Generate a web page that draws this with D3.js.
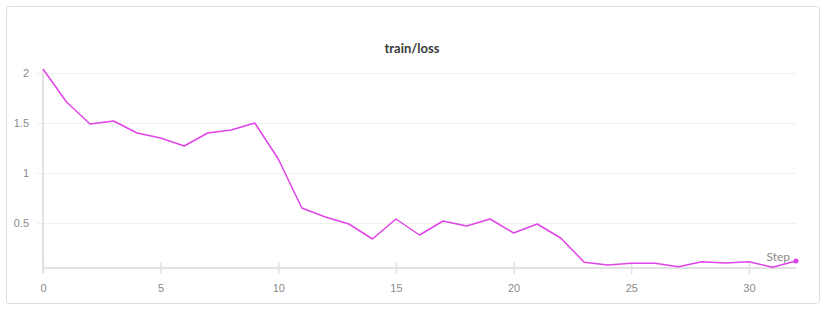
<!DOCTYPE html>
<html>
<head>
<meta charset="utf-8">
<script src="https://cdn.jsdelivr.net/npm/d3@7"></script>
<style>
  body { margin: 0; background: #fff; }
  svg { display: block; font-family: "Lato", "Noto Sans", sans-serif; }
</style>
</head>
<body>
<svg id="chart" width="829" height="315"></svg>
<script>
(function() {
	"use strict";

	// train/loss per step
	var steps = d3.range(0, 33);
	var loss = [2.04, 1.71, 1.49, 1.52, 1.40, 1.35, 1.27, 1.40, 1.43, 1.50,
		1.14, 0.65, 0.56, 0.49, 0.34, 0.54, 0.38, 0.52, 0.47, 0.54,
		0.40, 0.49, 0.35, 0.107, 0.08, 0.097, 0.097, 0.063, 0.113, 0.10,
		0.113, 0.057, 0.12];
	var xTicks = [0, 5, 10, 15, 20, 25, 30];
	var yTicks = [0.5, 1, 1.5, 2];

	var svg = d3.select('#chart'),
		margin = { left: 43, right: 33, top: 69, bottom: 47 },
		width = 829 - margin.left - margin.right,
		height = 315 - margin.top - margin.bottom;

	// card
	svg.append('rect')
		.attr('x', 6.5).attr('y', 6.5)
		.attr('width', 813).attr('height', 297)
		.attr('rx', 3)
		.attr('fill', '#fff')
		.attr('stroke', '#dcdcdc');

	svg.append('text')
		.attr('x', 412).attr('y', 53)
		.attr('text-anchor', 'middle')
		.attr('font-size', 13)
		.attr('font-weight', 'bold')
		.attr('fill', '#3b3b3b')
		.text('train/loss');

	var x = d3.scaleLinear().domain([0, 32]).range([0, width]);
	var y = d3.scaleLinear().domain([0.05, 2.04]).range([height, 0]);

	var g = svg.append('g')
		.attr('transform', 'translate(' + margin.left + ',' + margin.top + ')');

	// gridlines + y ticks
	var yAxis = g.append('g')
		.call(d3.axisLeft(y).tickValues(yTicks).tickSize(-width).tickPadding(14)
			.tickFormat(function(d) { return d; }));
	yAxis.select('.domain').remove();
	yAxis.selectAll('line').attr('stroke', '#f0f0f0').attr('x1', -6);
	yAxis.selectAll('text').attr('fill', '#8a8a8a').attr('font-size', 11).attr('dy', '0.32em');

	// y axis line
	g.append('line')
		.attr('x1', 0).attr('x2', 0)
		.attr('y1', 0).attr('y2', height + 5)
		.attr('stroke', '#e2e2e2').attr('stroke-width', 2);

	// x axis
	var xAxis = g.append('g')
		.attr('transform', 'translate(0,' + height + ')')
		.call(d3.axisBottom(x).tickValues(xTicks).tickSize(6).tickPadding(10));
	xAxis.select('.domain').remove();
	xAxis.selectAll('line').attr('stroke', '#e2e2e2').attr('stroke-width', 1.5).attr('y1', -6);
	xAxis.selectAll('text').attr('fill', '#8a8a8a').attr('font-size', 11);

	g.append('line')
		.attr('x1', 0).attr('x2', width)
		.attr('y1', height).attr('y2', height)
		.attr('stroke', '#e2e2e2').attr('stroke-width', 2);

	var line = d3.line()
		.x(function(d, i) { return x(steps[i]); })
		.y(function(d) { return y(d); });

	g.append('path')
		.datum(loss)
		.attr('fill', 'none')
		.attr('stroke', '#e043e8')
		.attr('stroke-width', 1.5)
		.attr('stroke-linejoin', 'round')
		.attr('d', line);

	var last = loss.length - 1;
	g.append('circle')
		.attr('cx', x(steps[last])).attr('cy', y(loss[last]))
		.attr('r', 2.5)
		.attr('fill', '#e043e8');

	g.append('text')
		.attr('x', width - 6).attr('y', height - 7)
		.attr('text-anchor', 'end')
		.attr('font-size', 12)
		.attr('fill', '#8a8a8a')
		.text('Step');
})();
</script>
</body>
</html>
